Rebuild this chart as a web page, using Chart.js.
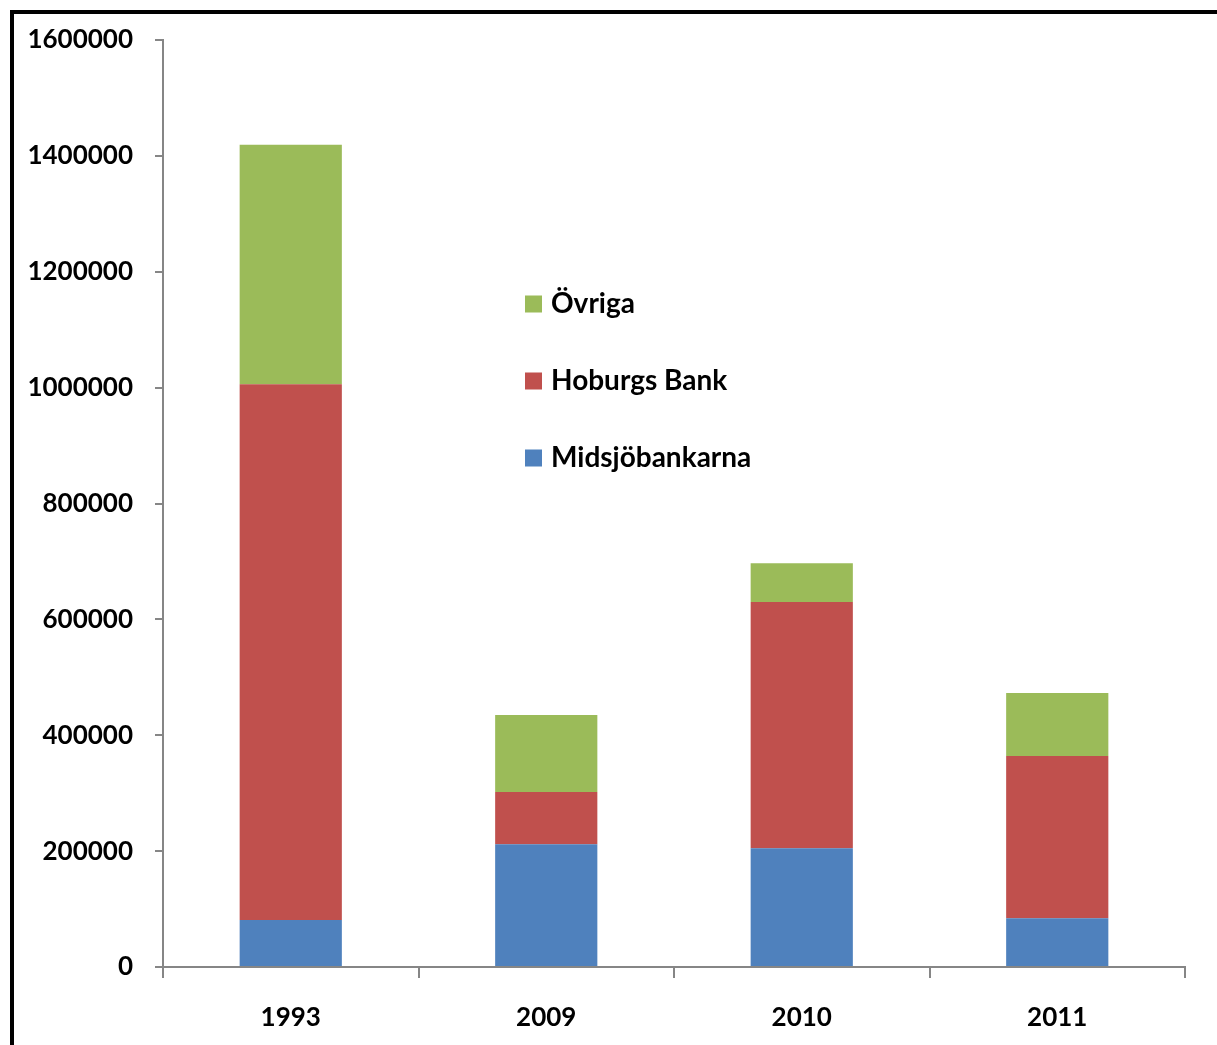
<!DOCTYPE html>
<html>
<head>
<meta charset="utf-8">
<script src="https://cdn.jsdelivr.net/npm/chart.js@4/dist/chart.umd.min.js"></script>
<style>
  html, body { margin: 0; padding: 0; background: #fff; overflow: hidden; }
  #wrap { position: relative; width: 1217px; height: 1045px; }
  #frame { position: absolute; left: 10px; top: 10px; width: 1300px; height: 1100px;
           border-top: 4px solid #000; border-left: 4px solid #000; box-sizing: border-box; pointer-events: none; }
  canvas { position: absolute; left: 0; top: 0; }
</style>
</head>
<body>
<div id="wrap">
  <canvas id="c" width="1217" height="1045"></canvas>
  <div id="frame"></div>
</div>
<script>
const categories = ['1993', '2009', '2010', '2011'];
const midsjobankarna = [81000, 212000, 205000, 84000];
const hoburgsBank = [925000, 90000, 425000, 280000];
const ovriga = [413000, 133000, 67000, 109000];
const yTicks = [0, 200000, 400000, 600000, 800000, 1000000, 1200000, 1400000, 1600000];

const FONT = { family: 'Lato, "DejaVu Sans", sans-serif', size: 26, weight: 'bold' };

const insideLegend = {
  id: 'insideLegend',
  afterDraw(chart) {
    const ctx = chart.ctx;
    const ds = chart.data.datasets.slice().reverse();
    const x0 = 525, y0 = 304, step = 77, box = 17;
    ctx.save();
    ctx.font = 'bold 28px Lato, "DejaVu Sans", sans-serif';
    ctx.textBaseline = 'middle';
    ctx.textAlign = 'left';
    ds.forEach((d, i) => {
      const y = y0 + i * step;
      ctx.fillStyle = d.backgroundColor;
      ctx.fillRect(x0, y - box / 2, box, box);
      ctx.fillStyle = '#000';
      ctx.fillText(d.label, x0 + 26, y);
    });
    ctx.restore();
  }
};

new Chart(document.getElementById('c'), {
  type: 'bar',
  data: {
    labels: categories,
    datasets: [
      { label: 'Midsjöbankarna', data: midsjobankarna, backgroundColor: '#4F81BD' },
      { label: 'Hoburgs Bank', data: hoburgsBank, backgroundColor: '#C0504D' },
      { label: 'Övriga', data: ovriga, backgroundColor: '#9BBB59' }
    ]
  },
  options: {
    responsive: false,
    animation: false,
    devicePixelRatio: 1,
    layout: { padding: { left: 0, right: 32, top: 40, bottom: 0 } },
    datasets: { bar: { categoryPercentage: 1.0, barPercentage: 0.4 } },
    plugins: { legend: { display: false }, tooltip: { enabled: false } },
    scales: {
      x: {
        stacked: true,
        afterFit(scale) { scale.height = 78; },
        grid: { display: true, drawOnChartArea: false, drawTicks: true, tickLength: 11, color: '#868686', lineWidth: 2, offset: true },
        border: { display: true, color: '#868686', width: 2 },
        ticks: { color: '#000', font: FONT, padding: 24, maxRotation: 0 }
      },
      y: {
        stacked: true,
        min: 0,
        max: 1600000,
        afterFit(scale) { scale.width = 163; },
        afterBuildTicks(scale) { scale.ticks = yTicks.map(v => ({ value: v })); },
        grid: { display: true, drawOnChartArea: false, drawTicks: true, tickLength: 8, color: '#868686', lineWidth: 2 },
        border: { display: true, color: '#868686', width: 2 },
        ticks: { color: '#000', font: FONT, padding: 22, callback: v => String(v) }
      }
    }
  },
  plugins: [insideLegend]
});
</script>
</body>
</html>
